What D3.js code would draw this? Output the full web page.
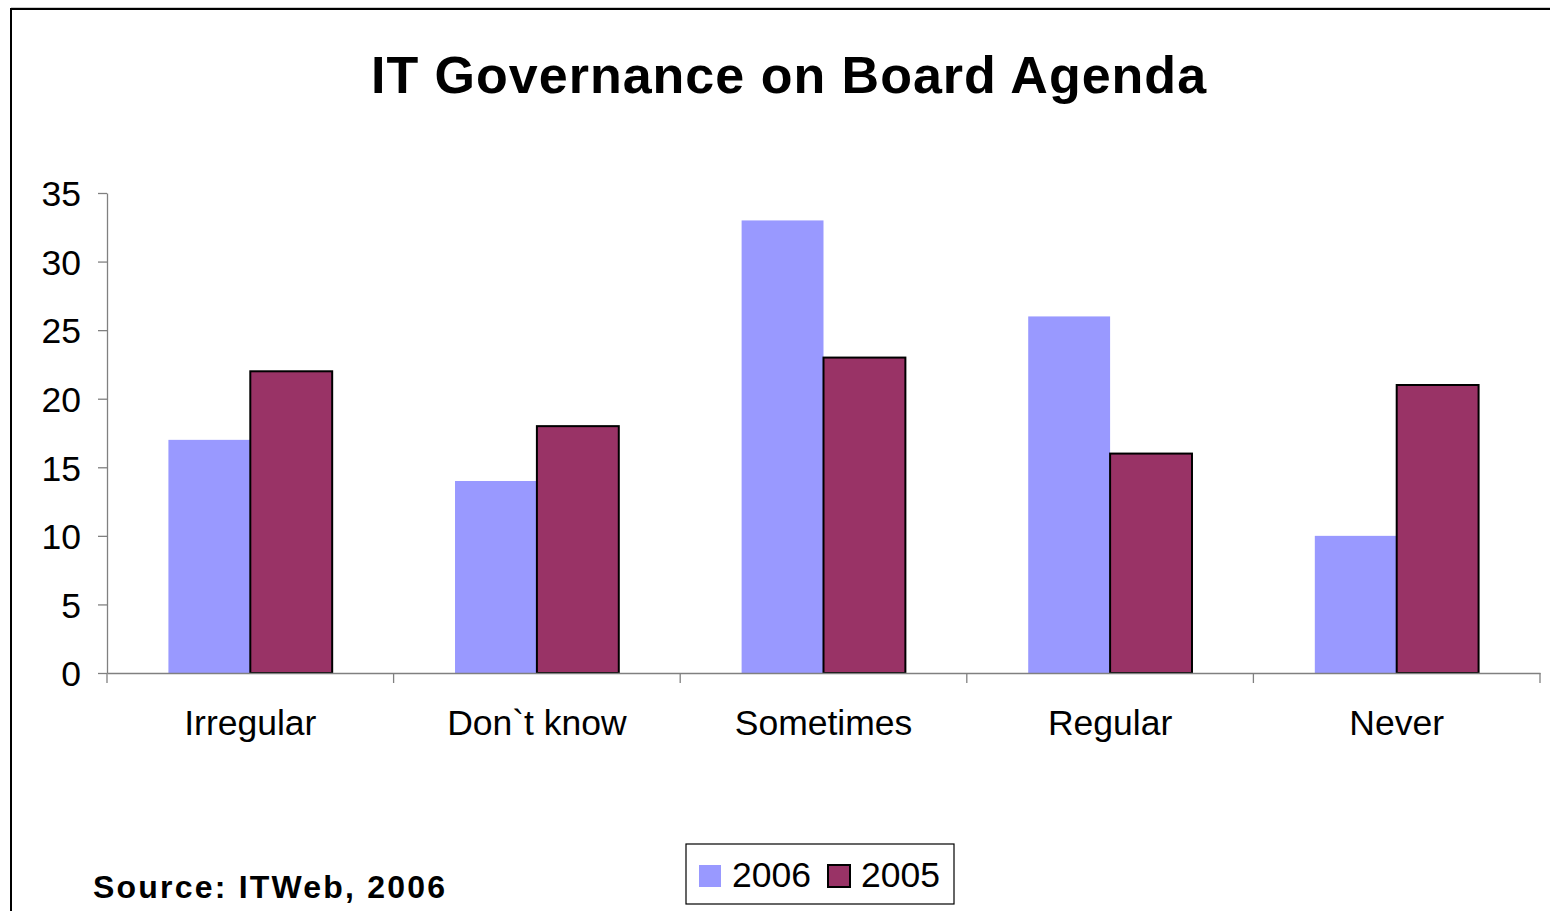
<!DOCTYPE html>
<html><head><meta charset="utf-8">
<script src="https://cdn.jsdelivr.net/npm/d3@7"></script>
<style>body{margin:0;background:#fff;}svg{display:block;font-family:"Liberation Sans",Arial,sans-serif;}</style>
</head><body>
<svg id="c" width="1550" height="911"></svg>
<script>
const categories = ["Irregular", "Don`t know", "Sometimes", "Regular", "Never"];
const seriesNames = ["2006", "2005"];
const values2006 = [17, 14, 33, 26, 10];
const values2005 = [22, 18, 23, 16, 21];
const yTicks = [0, 5, 10, 15, 20, 25, 30, 35];
const colors = ["#9999FF", "#993366"];

(function () {
const svg = d3.select("#c");
// outer frame (only top and left edges visible)
svg.append("path").attr("d", "M11,920 L11,9 L1560,9").attr("fill", "none").attr("stroke", "#000").attr("stroke-width", 2);
svg.append("line").attr("x1", 11).attr("x2", 1560).attr("y1", 7.5).attr("y2", 7.5).attr("stroke", "#ccc").attr("stroke-width", 1);

svg.append("text").attr("x", 789).attr("y", 93).attr("text-anchor", "middle")
  .attr("font-size", 52).attr("font-weight", "bold").attr("letter-spacing", 1)
  .text("IT Governance on Board Agenda");

const pLeft = 107, pRight = 1540, pTop = 193, pBottom = 673;
const x = d3.scaleBand().domain(categories).range([pLeft, pRight]).paddingInner(0).paddingOuter(0);
const y = d3.scaleLinear().domain([0, 35]).range([pBottom, pTop]);
const barW = x.bandwidth() / 3.5;
const x1 = d3.scaleBand().domain(seriesNames).range([0, barW * 2]);

const data = categories.map((c, i) => ({c, v: [values2006[i], values2005[i]]}));
const g = svg.append("g");
const groups = g.selectAll("g.cat").data(data).join("g").attr("class", "cat")
  .attr("transform", d => `translate(${x(d.c) + (x.bandwidth() - barW * 2) / 2},0)`);
groups.selectAll("rect").data(d => d.v.map((v, k) => ({v, k}))).join("rect")
  .attr("x", d => x1(seriesNames[d.k]))
  .attr("y", d => y(d.v))
  .attr("width", x1.bandwidth())
  .attr("height", d => y(0) - y(d.v))
  .attr("fill", d => colors[d.k])
  .attr("stroke", d => d.k === 1 ? "#000" : "none")
  .attr("stroke-width", 2);

// y axis
const yAxis = svg.append("g").attr("transform", `translate(${pLeft},0)`)
  .call(d3.axisLeft(y).tickValues(yTicks).tickSize(9).tickSizeOuter(0).tickPadding(17));
yAxis.select(".domain").attr("stroke", "#808080").attr("stroke-width", 1.3);
yAxis.selectAll(".tick line").attr("stroke", "#808080").attr("stroke-width", 1.3);
yAxis.selectAll("text").attr("font-size", 35.5).attr("fill", "#000")
  .attr("font-family", "Liberation Sans, Arial, sans-serif").attr("dy", "0.36em");

// x axis
const xAxis = svg.append("g").attr("transform", `translate(0,${pBottom})`)
  .call(d3.axisBottom(x).tickSize(0).tickPadding(37));
xAxis.select(".domain").attr("stroke", "#808080").attr("stroke-width", 1.3);
xAxis.selectAll("text").attr("font-size", 35.5).attr("fill", "#000")
  .attr("font-family", "Liberation Sans, Arial, sans-serif");
const bounds = categories.map(c => x(c)).concat([pRight]);
svg.append("g").selectAll("line").data(bounds).join("line")
  .attr("x1", d => d).attr("x2", d => d).attr("y1", pBottom).attr("y2", pBottom + 10)
  .attr("stroke", "#808080").attr("stroke-width", 1.3);

// legend
const lg = svg.append("g");
lg.append("rect").attr("x", 686).attr("y", 844).attr("width", 268).attr("height", 60)
  .attr("fill", "#fff").attr("stroke", "#000").attr("stroke-width", 1.2);
const legX = [699, 828];
seriesNames.forEach((s, k) => {
  lg.append("rect").attr("x", legX[k]).attr("y", 865).attr("width", 22).attr("height", 22)
    .attr("fill", colors[k]).attr("stroke", k === 1 ? "#000" : "none").attr("stroke-width", 2);
  lg.append("text").attr("x", legX[k] + 33).attr("y", 887).attr("font-size", 35.5).text(s);
});

svg.append("text").attr("x", 93).attr("y", 898).attr("font-size", 32).attr("font-weight", "bold")
  .attr("letter-spacing", 2.2).text("Source: ITWeb, 2006");
})();
</script>
</body></html>
